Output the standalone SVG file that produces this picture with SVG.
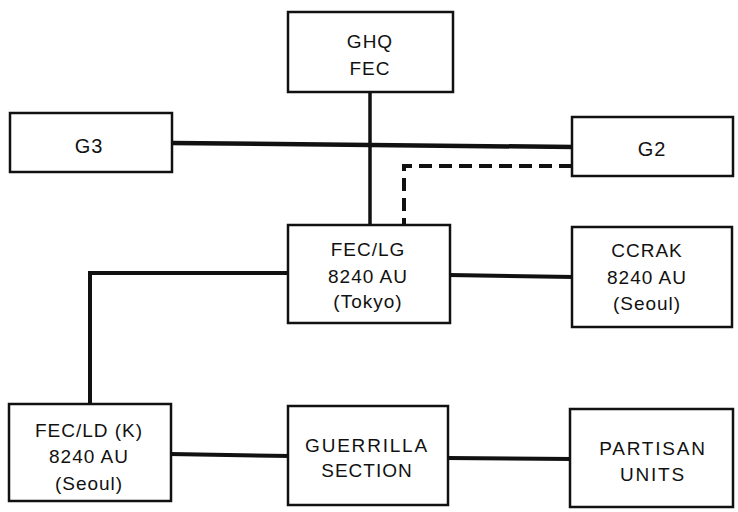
<svg xmlns="http://www.w3.org/2000/svg" width="738" height="512" viewBox="0 0 738 512">
<style>
.box{fill:#fff;stroke:#111;stroke-width:2.5}
.t{font-family:"Liberation Sans",Arial,sans-serif;font-size:19px;fill:#111;text-anchor:middle;letter-spacing:1px}
.c{fill:none;stroke:#111;stroke-width:4;stroke-linecap:square;stroke-linejoin:miter}
.d{fill:none;stroke:#111;stroke-width:4;stroke-dasharray:13 7}
</style>
<rect width="738" height="512" fill="#fff"/>
<g id="connectors">
<line class="c" x1="370" y1="92" x2="370" y2="225" style="stroke-width:3.5"/>
<line class="c" x1="172" y1="143" x2="572" y2="147" style="stroke-width:4.5"/>
<path class="d" d="M572,166 L404,166 L404,225"/>
<path class="c" d="M288,273 L90,273 L90,404"/>
<line class="c" x1="450" y1="275" x2="572" y2="277"/>
<line class="c" x1="171" y1="454" x2="288" y2="456"/>
<line class="c" x1="448" y1="458" x2="570" y2="459"/>
</g>
<g id="ghq">
<rect class="box" x="288" y="12" width="165" height="80"/>
<text class="t" x="370" y="48">GHQ</text>
<text class="t" x="370" y="75">FEC</text>
</g>
<g id="g3">
<rect class="box" x="10" y="113" width="162" height="59"/>
<text class="t" x="89" y="153" style="font-size:20px">G3</text>
</g>
<g id="g2">
<rect class="box" x="572" y="117" width="161" height="59"/>
<text class="t" x="652" y="156" style="font-size:20px">G2</text>
</g>
<g id="feclg">
<rect class="box" x="288" y="225" width="162" height="98"/>
<text class="t" x="368" y="256">FEC/LG</text>
<text class="t" x="368" y="283">8240 AU</text>
<text class="t" x="368" y="308">(Tokyo)</text>
</g>
<g id="ccrak">
<rect class="box" x="572" y="227" width="160" height="100"/>
<text class="t" x="647" y="257">CCRAK</text>
<text class="t" x="647" y="284">8240 AU</text>
<text class="t" x="647" y="310">(Seoul)</text>
</g>
<g id="fecld">
<rect class="box" x="9" y="404" width="162" height="97"/>
<text class="t" x="89" y="437">FEC/LD (K)</text>
<text class="t" x="89" y="463">8240 AU</text>
<text class="t" x="89" y="490">(Seoul)</text>
</g>
<g id="guerrilla">
<rect class="box" x="288" y="406" width="160" height="99"/>
<text class="t" x="367" y="452" style="letter-spacing:1.8px">GUERRILLA</text>
<text class="t" x="367" y="477">SECTION</text>
</g>
<g id="partisan">
<rect class="box" x="570" y="409" width="163" height="98"/>
<text class="t" x="653" y="455" style="letter-spacing:1.8px">PARTISAN</text>
<text class="t" x="653" y="481" style="letter-spacing:1.8px">UNITS</text>
</g>
</svg>
